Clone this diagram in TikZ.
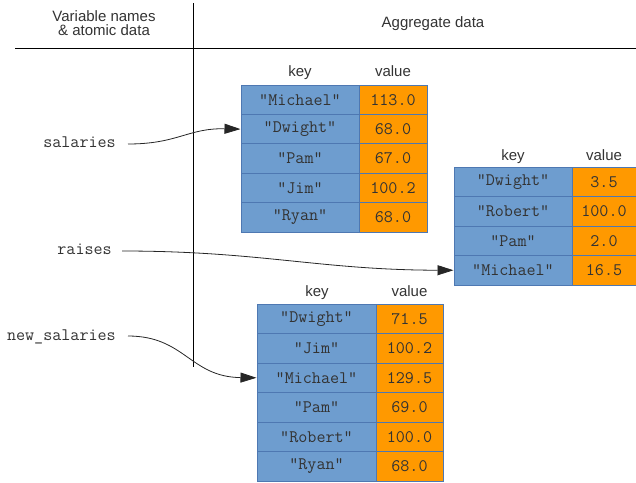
\documentclass[tikz,border=0pt]{standalone}
\usepackage{fontspec}
\setmainfont{Liberation Sans}
\usetikzlibrary{arrows.meta}
\definecolor{keyblue}{RGB}{110,157,207}
\definecolor{valorange}{RGB}{255,153,0}
\definecolor{cellborder}{RGB}{78,120,178}
\definecolor{txt}{RGB}{51,51,51}
\begin{document}
\begin{tikzpicture}[x=1pt,y=-1pt,
  hdr/.style={font=\fontsize{15}{15}\selectfont, text=txt, inner sep=0pt},
  mono/.style={font=\ttfamily\fontsize{17.6}{18}\selectfont, text=txt, inner sep=0pt},
  keycell/.style={mono, draw=cellborder, fill=keyblue, line width=1pt},
  valcell/.style={mono, draw=cellborder, fill=valorange, line width=1pt},
  ptr/.style={draw=black!85, line width=0.8pt, -{Triangle[length=16pt,width=10pt]}}]
\useasboundingbox (0,0) rectangle (636,482);

% header grid
\draw[line width=0.9pt] (15,48) -- (636,48);
\draw[line width=0.9pt] (193,3) -- (193,367);
\node[hdr, anchor=base] (hv1) at (104,21) {Variable names};
\node[hdr, anchor=base] (hv2) at (104,35) {\& atomic data};
\node[hdr, anchor=base] (hag) at (433,27) {Aggregate data};

% table 1: salaries
\node[hdr, anchor=base] (akh) at (300,76) {key};
\node[hdr, anchor=base] (avh) at (393,76) {value};
\foreach \k/\v [count=\i] in {"Michael"/113.0, "Dwight"/68.0, "Pam"/67.0, "Jim"/100.2, "Ryan"/68.0}{
  \node[keycell, minimum width=118pt, minimum height=29.4pt] (ak\i) at (300,{85+(\i-0.5)*29.4}) {\k};
  \node[valcell, minimum width=68pt, minimum height=29.4pt] (av\i) at (393,{85+(\i-0.5)*29.4}) {\v};
}

% table 2: raises
\node[hdr, anchor=base] (bkh) at (513,160) {key};
\node[hdr, anchor=base] (bvh) at (604,160) {value};
\foreach \k/\v [count=\i] in {"Dwight"/3.5, "Robert"/100.0, "Pam"/2.0, "Michael"/16.5}{
  \node[keycell, minimum width=118pt, minimum height=29.5pt] (bk\i) at (513,{167+(\i-0.5)*29.5}) {\k};
  \node[valcell, minimum width=64pt, minimum height=29.5pt] (bv\i) at (604,{167+(\i-0.5)*29.5}) {\v};
}

% table 3: new_salaries
\node[hdr, anchor=base] (ckh) at (317,296) {key};
\node[hdr, anchor=base] (cvh) at (409.5,296) {value};
\foreach \k/\v [count=\i] in {"Dwight"/71.5, "Jim"/100.2, "Michael"/129.5, "Pam"/69.0, "Robert"/100.0, "Ryan"/68.0}{
  \node[keycell, minimum width=119pt, minimum height=29.5pt] (ck\i) at (316.5,{304+(\i-0.5)*29.5}) {\k};
  \node[valcell, minimum width=67pt, minimum height=29.5pt] (cv\i) at (409.5,{304+(\i-0.5)*29.5}) {\v};
}

% variable names
\node[mono, anchor=base east] (sal) at (116,147) {salaries};
\node[mono, anchor=base east] (rai) at (112,254) {raises};
\node[mono, anchor=base east] (nsal) at (116,340) {new\_salaries};
\coordinate (salstart) at (128,144);
\coordinate (raistart) at (122,251);
\coordinate (nsalstart) at (128,336);

% pointers
\draw[ptr] (salstart) .. controls (178,144) and (188,128) .. (ak2.west);
\draw[ptr] (raistart) .. controls (260,251) and (320,270) .. (bk4.west);
\draw[ptr] (nsalstart) .. controls (185,336) and (190,377) .. (ck3.west);
\end{tikzpicture}
\end{document}
